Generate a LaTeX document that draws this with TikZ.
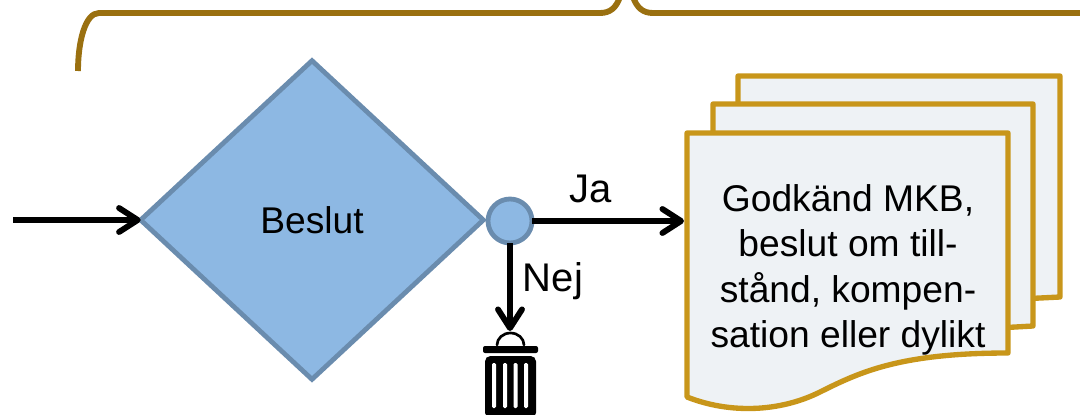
\documentclass[tikz,border=0pt]{standalone}
\usepackage{xcolor}
\usepackage{fontspec}
\setmainfont{Liberation Sans}
\usetikzlibrary{shapes.geometric, arrows.meta, positioning}

\definecolor{beslutblue}{HTML}{8DB8E3}
\definecolor{beslutedge}{HTML}{6A8CAE}
\definecolor{docgold}{HTML}{C8961A}
\definecolor{docfill}{HTML}{EEF2F5}
\definecolor{bracegold}{HTML}{9A7010}

\tikzset{
    flow/.style={line width=4.4pt, -{Straight Barb[round, length=14pt, width=18pt]}},
    brace/.style={line width=4.4pt, bracegold},
    docpage/.style={line width=4pt, draw=docgold, fill=docfill, line join=round},
    words/.style={font=\fontsize{27.9}{34.1}\selectfont, text=black, inner sep=0pt},
    bigwords/.style={font=\fontsize{30}{36}\selectfont, text=black, inner sep=0pt}
}

\begin{document}
\begin{tikzpicture}[x=0.75pt, y=-0.75pt]
    \useasboundingbox (0,0) rectangle (1080,414);

    % Braces
    \draw[brace] (78,71) .. controls (78,42) and (85,13) .. (99,13) -- (600,13) .. controls (610,13) and (616,8) .. (620,-3);
    \draw[brace] (633,-3) .. controls (637,8) and (643,13) .. (653,13) -- (1085,13);

    % Documents
    \draw[docpage] (738,76) -- (1060,76) -- (1060,297) -- (1000,300) -- (738,300) -- cycle;
    \draw[docpage] (713,104) -- (1033,104) -- (1033,326) -- (980,329) -- (713,329) -- cycle;
    \draw[docpage] (687,133) -- (1008,133) -- (1008,353) .. controls (900,353) and (860,372) .. (820,392) .. controls (780,412) and (730,414) .. (687,397) -- cycle;
    \node[words, align=center] (docs) at (848,270) {Godkänd MKB,\\beslut om till-\\stånd, kompen-\\sation eller dylikt};
    \coordinate (docin) at (684,221);

    % Decision
    \node[diamond, draw=beslutedge, fill=beslutblue, line width=3.6pt, minimum width=257pt, minimum height=239pt, inner sep=0pt, outer sep=0pt, words] (beslut) at (312,220) {Beslut};
    \node[circle, draw=beslutedge, fill=beslutblue, line width=3.6pt, minimum size=33pt, inner sep=0pt, outer sep=0pt] (gate) at (510,221) {};

    % Trash can
    \coordinate (trash) at (510,331);
    \draw[line width=2pt, line cap=round] (497,345) arc (180:360:13.5 and 12);
    \fill[rounded corners=1.5pt] (483,346) rectangle (538,353);
    \fill[rounded corners=4pt] (485,356) rectangle (536,418);
    \foreach \x in {492,503,513.5,524} {
        \fill[white, rounded corners=1pt] (\x,363) rectangle (\x+4,408);
    }

    % Arrows
    \coordinate (start) at (13,220);
    \draw[flow] (start) -- (beslut.west);
    \draw[flow] (gate) -- (docin);
    \draw[flow] (gate) -- (trash);

    % Labels
    \node[bigwords] (ja) at (591,189) {Ja};
    \node[bigwords] (nej) at (553,281) {Nej};
\end{tikzpicture}
\end{document}
